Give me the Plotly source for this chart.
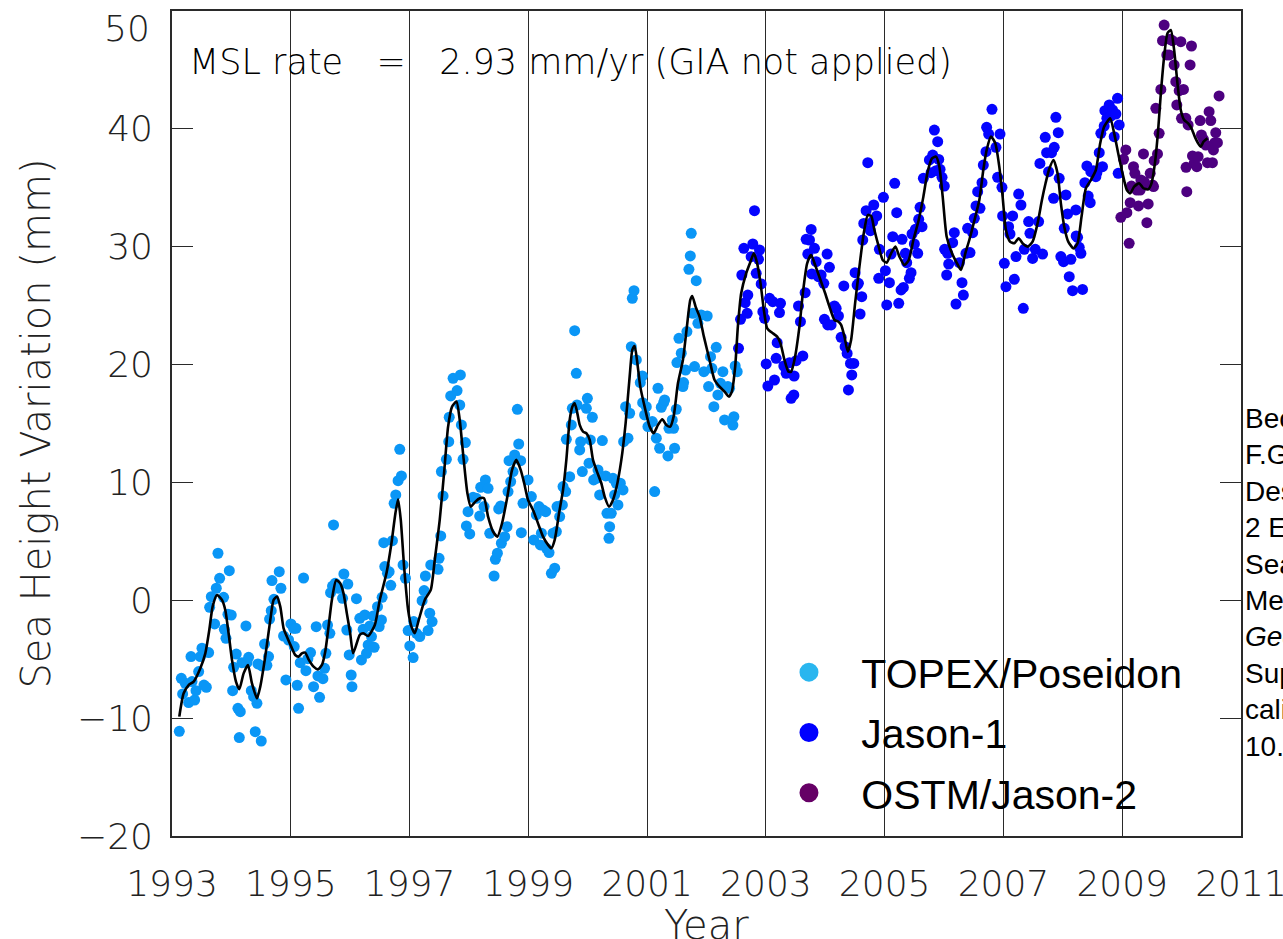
import plotly.graph_objects as go

# ---------------- data ----------------
topex_year = [
    1993.123, 1993.157, 1993.179, 1993.224, 1993.280, 1993.320, 1993.337, 1993.381, 1993.404, 1993.449,
    1993.477, 1993.505, 1993.538, 1993.578, 1993.617, 1993.634, 1993.662, 1993.718, 1993.746, 1993.774,
    1993.802, 1993.869, 1993.881, 1993.909, 1993.965, 1993.942, 1993.998, 1994.021, 1994.038, 1994.082,
    1994.110, 1994.150, 1994.133, 1994.178, 1994.245, 1994.262, 1994.290, 1994.335, 1994.374, 1994.402,
    1994.430, 1994.447, 1994.503, 1994.514, 1994.559, 1994.598, 1994.626, 1994.643, 1994.671, 1994.683,
    1994.716, 1994.806, 1994.834, 1994.879, 1994.918, 1994.963, 1995.002, 1995.047, 1995.086, 1995.058,
    1995.109, 1995.131, 1995.159, 1995.215, 1995.255, 1995.288, 1995.333, 1995.384, 1995.428, 1995.457,
    1995.485, 1995.541, 1995.569, 1995.591, 1995.619, 1995.658, 1995.670, 1995.720, 1995.703, 1995.748,
    1995.804, 1995.872, 1995.894, 1995.961, 1995.944, 1995.984, 1996.017, 1996.030,
    1996.106, 1996.162, 1996.190, 1996.218, 1996.246, 1996.275, 1996.303, 1996.331, 1996.359, 1996.404,
    1996.387, 1996.460, 1996.488, 1996.527, 1996.538, 1996.566, 1996.583, 1996.628, 1996.656, 1996.684,
    1996.712, 1996.740, 1996.768, 1996.807, 1996.835, 1996.863, 1996.891, 1996.931, 1996.976, 1997.004,
    1997.060, 1997.070, 1997.116, 1997.172, 1997.211, 1997.245, 1997.267, 1997.312, 1997.340, 1997.380,
    1997.357, 1997.480, 1997.497, 1997.525, 1997.536, 1997.564, 1997.620, 1997.660, 1997.668, 1997.693,
    1997.733, 1997.800, 1997.856, 1997.845, 1997.873, 1997.940, 1997.901, 1997.985, 1998.069, 1997.957,
    1998.013, 1998.125, 1998.181, 1998.198, 1998.277, 1998.322, 1998.254, 1998.350, 1998.423, 1998.445,
    1998.479, 1998.501, 1998.535, 1998.546, 1998.602, 1998.641, 1998.658, 1998.675, 1998.703, 1998.742,
    1998.770, 1998.815, 1998.838, 1998.871, 1998.910, 1998.882,
    1998.995, 1999.051, 1999.091, 1999.135, 1999.180, 1999.220, 1999.248, 1999.292, 1999.203, 1999.304,
    1999.349, 1999.388, 1999.444, 1999.416, 1999.472, 1999.483, 1999.528, 1999.573, 1999.584, 1999.629,
    1999.640, 1999.696, 1999.724, 1999.741, 1999.780, 1999.808, 1999.820, 1999.865, 1999.881, 1999.909,
    1999.977, 1999.994, 2000.022, 2000.044, 2000.078, 2000.100, 2000.145, 2000.201, 2000.173, 2000.246,
    2000.302, 2000.324, 2000.358, 2000.369, 2000.397, 2000.425, 2000.453, 2000.481, 2000.509, 2000.549,
    2000.594, 2000.605, 2000.638, 2000.678, 2000.706, 2000.734, 2000.751, 2000.779, 2000.818, 2000.885,
    2000.919, 2000.925, 2000.958, 2000.986, 2001.014, 2001.087, 2001.127, 2001.155, 2001.183, 2001.211,
    2001.239, 2001.278, 2001.295, 2001.351, 2001.368, 2001.424, 2001.446, 2001.463, 2001.491, 2001.502,
    2001.536, 2001.575, 2001.603, 2001.614, 2001.648, 2001.670, 2001.704, 2001.727, 2001.743, 2001.771,
    2001.799, 2001.827, 2001.855,
    2001.911, 2002.012, 2001.956, 2002.035, 2002.068, 2002.091, 2002.164, 2002.124, 2002.192, 2002.236,
    2002.276, 2002.304, 2002.360, 2002.388, 2002.444, 2002.461, 2002.483, 2002.517,
]
topex_mm = [
    -11.12, -6.62, -7.95, -7.04, -8.68, -4.78, -6.90, -8.46, -7.67, -6.05,
    -4.78, -4.07, -7.19, -7.38, -4.44, -0.60, 0.31, -2.01, 1.02, 3.99,
    1.86, 0.25, -2.46, -3.23, 2.51, -1.19, -1.25, -7.67, -5.69, -4.56,
    -9.17, -9.45, -11.65, -5.29, -2.18, -5.29, -4.84, -7.67, -8.18, -11.15,
    -8.74, -5.40, -11.94, -5.57, -3.71, -5.52, -4.78, -1.59, -0.88, 1.67,
    0.08, 2.43, 1.02, -3.03, -6.76, -3.37, -2.01, -2.38, -2.38, -3.93,
    -7.21, -9.17, -5.29, 1.89, -5.97, -4.95, -4.44, -7.33, -2.24, -6.42,
    -8.23, -6.65, -5.77, -4.50, -2.10, -2.80, 0.65, 6.39, 1.21, 1.44,
    1.02, 0.17, 2.23, 1.38, -2.52, -4.64, -6.34, -7.33,
    0.14, -1.53, -5.06, -2.46, -1.24, -4.50, -3.79, -2.18, -3.08, -3.99,
    -1.33, -0.54, -2.23, -1.67, 0.25, 4.89, 2.86, 2.29, 2.43, 1.27,
    5.06, 8.23, 8.94, 10.15, 12.81, 10.55, 3.00, 1.87, -2.57, -3.87,
    -4.86, -1.81, -2.80, -3.08, -0.03, 0.82, 2.06, -2.57, -1.10, -1.81,
    3.00, 2.63, 3.56, 5.46, 10.92, 8.85, 11.96, 13.46, 15.53, 17.34,
    18.83, 17.79, 19.12, 16.57, 14.88, 13.38, 11.96, 7.52, 8.74, 6.31,
    5.63, 8.65, 7.15, 9.59, 10.21, 9.50, 7.95, 5.68, 2.06, 3.48,
    3.99, 7.75, 8.00, 4.84, 5.40, 6.25, 9.22, 11.85, 10.07, 10.92,
    12.33, 16.20, 13.26, 11.85, 8.23, 5.74,
    10.21, 8.80, 5.12, 7.24, 7.95, 5.69, 7.67, 7.52, 4.70, 4.41,
    4.05, 2.29, 2.72, 5.69, 5.83, 7.95, 7.10, 8.09, 9.65, 9.22,
    13.66, 10.49, 14.88, 16.29, 22.88, 19.26, 16.57, 12.76, 13.46, 10.92,
    16.29, 17.14, 11.63, 13.61, 15.53, 10.21, 10.35, 8.94, 11.06, 13.55,
    10.55, 7.38, 5.26, 6.25, 7.38, 10.35, 8.94, 9.93, 8.09, 9.93,
    9.36, 13.46, 16.43, 13.75, 15.87, 21.52, 25.62, 26.27, 20.39, 18.47,
    19.03, 16.77, 15.73, 16.43, 14.74, 15.16, 9.22, 13.75, 17.99, 12.90,
    16.38, 16.77, 17.00, 12.25, 14.59, 15.30, 14.59, 12.90, 16.21, 20.17,
    22.23, 20.96, 18.13, 18.47, 19.54, 22.80, 28.08, 29.22, 31.14, 24.35,
    19.83, 27.12, 23.50,
    24.21, 24.12, 19.40, 18.13, 20.67, 19.68, 21.46, 16.43, 17.42, 18.41,
    19.40, 15.30, 18.13, 17.99, 14.87, 15.58, 19.88, 19.40,
]

jason1_year = [
    2002.539, 2002.573, 2002.595, 2002.629, 2002.651, 2002.685, 2002.696, 2002.752, 2002.780, 2002.808,
    2002.837, 2002.876, 2002.893, 2002.921, 2002.949, 2002.977, 2003.005, 2003.033, 2003.061, 2003.117,
    2003.145, 2003.173, 2003.190, 2003.229, 2003.246, 2003.302, 2003.341, 2003.398, 2003.425, 2003.470,
    2003.475, 2003.509, 2003.549, 2003.582, 2003.622, 2003.661, 2003.678, 2003.706, 2003.734, 2003.762,
    2003.773, 2003.818, 2003.846, 2003.885, 2003.930, 2003.975, 2003.986, 2004.031, 2004.042, 2004.070,
    2004.098, 2004.154, 2004.183, 2004.222, 2004.267, 2004.312, 2004.334, 2004.368, 2004.390, 2004.424,
    2004.446, 2004.480, 2004.502, 2004.536, 2004.558, 2004.586, 2004.614, 2004.631, 2004.648, 2004.688,
    2004.716, 2004.760, 2004.799, 2004.816,
    2004.866, 2004.911, 2004.900, 2004.979, 2005.012, 2005.035, 2005.080, 2005.108, 2005.136, 2005.169,
    2005.203, 2005.237, 2005.276, 2005.293, 2005.315, 2005.349, 2005.371, 2005.416, 2005.444, 2005.461,
    2005.500, 2005.517, 2005.556, 2005.573, 2005.596, 2005.629, 2005.652, 2005.753, 2005.781, 2005.809,
    2005.837, 2005.865, 2005.893, 2005.910, 2005.933, 2005.966, 2006.005, 2006.010, 2006.044, 2006.061,
    2006.078, 2006.145, 2006.173, 2006.201, 2006.257, 2006.302, 2006.325, 2006.369, 2006.397, 2006.437,
    2006.482, 2006.510, 2006.538, 2006.566, 2006.605, 2006.639, 2006.661, 2006.706, 2006.717, 2006.751,
    2006.807, 2006.874, 2006.902, 2006.942, 2006.975, 2006.986, 2007.015, 2007.042, 2007.087, 2007.110,
    2007.155, 2007.183, 2007.211, 2007.256, 2007.295, 2007.334, 2007.351, 2007.424, 2007.446, 2007.491,
    2007.536, 2007.592, 2007.614, 2007.659, 2007.704, 2007.727, 2007.760,
    2007.810, 2007.855, 2007.883, 2007.923, 2007.939, 2007.844, 2007.967, 2008.012, 2008.024, 2008.052,
    2008.080, 2008.108, 2008.136, 2008.164, 2008.220, 2008.225, 2008.248, 2008.276, 2008.304, 2008.332,
    2008.371, 2008.405, 2008.427, 2008.461, 2008.472, 2008.517, 2008.556, 2008.573, 2008.613, 2008.640,
    2008.668, 2008.696, 2008.708, 2008.741, 2008.781, 2008.809, 2008.837, 2008.865, 2008.893, 2008.921,
    2008.932, 2008.949,
]
jason1_mm = [
    21.38, 23.84, 27.60, 29.86, 25.25, 24.35, 25.90, 29.15, 30.23, 33.06,
    27.74, 28.93, 29.72, 26.84, 24.49, 23.92, 20.05, 18.18, 25.62, 25.34,
    18.69, 20.53, 21.86, 24.41, 25.20, 19.88, 19.26, 20.16, 17.14, 17.42,
    19.03, 20.33, 24.97, 23.64, 20.73, 26.10, 30.63, 29.38, 30.57, 31.47,
    27.69, 29.86, 28.73, 27.46, 27.60, 26.89, 23.84, 29.38, 23.36, 28.25,
    23.36, 24.97, 24.77, 24.12, 22.31, 26.67, 21.52, 20.95, 17.85, 20.10,
    19.12, 20.10, 27.80, 26.75, 26.89, 24.29, 25.76, 30.57, 31.98, 33.06,
    37.13, 31.36, 32.13, 33.54,
    32.61, 29.78, 27.32, 34.19, 27.97, 25.06, 26.95, 29.38, 30.85, 35.38,
    32.89, 25.20, 26.33, 30.63, 26.55, 29.44, 28.65, 27.32, 27.80, 31.08,
    30.23, 31.48, 29.44, 32.32, 33.34, 31.70, 35.80, 37.36, 36.28, 37.78,
    39.90, 36.45, 38.91, 37.41, 36.57, 35.89, 35.15, 29.78, 27.60, 29.44,
    28.53, 30.34, 31.19, 25.14, 28.65, 26.95, 25.90, 29.44, 31.56, 29.50,
    31.19, 32.41, 33.46, 34.67, 33.26, 35.43, 36.93, 38.06, 40.13, 39.56,
    41.66, 38.43, 35.89, 39.56, 35.04, 32.61, 28.59, 26.61, 31.70, 31.08,
    32.61, 27.23, 29.16, 34.47, 33.54, 24.77, 29.78, 32.13, 31.14, 29.01,
    29.78, 32.13, 37.07, 29.38, 39.28, 37.98, 36.37,
    37.98, 38.43, 40.98, 39.68, 35.80, 34.11, 29.16, 28.73, 31.56, 34.39,
    32.78, 27.46, 28.93, 26.27, 33.12, 30.91, 30.80, 29.95, 29.44, 26.38,
    35.43, 36.85, 34.30, 33.74, 36.37, 36.45, 35.94, 36.28, 37.98, 39.62,
    36.79, 40.24, 41.54, 40.89, 42.03, 41.09, 41.60, 39.34, 41.26, 42.59,
    36.23, 40.33,
]

jason2_year = [
    2008.977, 2009.022, 2009.061, 2009.078, 2009.117, 2009.134, 2009.156, 2009.190, 2009.213, 2009.246,
    2009.274, 2009.302, 2009.314, 2009.358, 2009.370, 2009.398, 2009.415, 2009.437, 2009.471, 2009.510,
    2009.527, 2009.538, 2009.594, 2009.622, 2009.566, 2009.650, 2009.678, 2009.706, 2009.751, 2009.790,
    2009.807, 2009.846, 2009.874, 2009.902, 2009.919, 2009.959, 2009.987, 2009.998, 2010.031, 2010.071,
    2010.110, 2010.143, 2010.166, 2010.183, 2010.211, 2010.256, 2010.278, 2010.312, 2010.334, 2010.368,
    2010.407, 2010.435, 2010.463, 2010.491, 2010.519, 2010.536, 2010.559, 2010.575, 2010.603, 2010.631,
    2010.087, 2010.075,
]
jason2_mm = [
    32.49, 37.42, 38.21, 32.89, 30.29, 33.74, 35.15, 36.79, 36.23, 34.81,
    33.46, 34.81, 35.66, 37.87, 35.52, 35.24, 32.04, 33.63, 36.23, 35.24,
    35.10, 37.30, 37.87, 39.62, 41.74, 43.35, 47.48, 48.81, 46.27, 46.27,
    47.60, 47.48, 45.42, 44.00, 42.03, 43.24, 47.40, 40.89, 43.35, 40.89,
    40.33, 45.42, 47.03, 37.70, 37.07, 36.79, 37.64, 40.70, 39.48, 39.11,
    38.63, 37.13, 41.46, 40.70, 37.13, 38.21, 38.83, 39.68, 38.83, 42.79,
    34.67, 36.74,
]

smooth_year = [
    1993.123, 1993.196, 1993.280, 1993.365, 1993.477, 1993.561, 1993.628, 1993.684, 1993.757, 1993.841,
    1993.897, 1993.953, 1994.010, 1994.077, 1994.133, 1994.206, 1994.279, 1994.346, 1994.430, 1994.486,
    1994.570, 1994.655, 1994.711, 1994.767, 1994.823, 1994.879, 1994.935, 1995.008, 1995.075, 1995.131,
    1995.187, 1995.243, 1995.299, 1995.384, 1995.457, 1995.524, 1995.580, 1995.636, 1995.692, 1995.765,
    1995.832, 1995.888, 1995.944, 1996.000, 1996.050, 1996.162, 1996.218, 1996.303, 1996.415, 1996.499,
    1996.611, 1996.695, 1996.762, 1996.807, 1996.852, 1996.908, 1996.976, 1997.032, 1997.088, 1997.155,
    1997.256, 1997.357, 1997.424, 1997.508, 1997.581, 1997.649, 1997.716, 1997.789, 1997.845, 1997.901,
    1997.974, 1998.030, 1998.109, 1998.181, 1998.254, 1998.322, 1998.406, 1998.479, 1998.557, 1998.647,
    1998.726, 1998.798, 1998.871, 1998.930, 1998.995, 1999.079, 1999.163, 1999.248, 1999.332, 1999.388,
    1999.444, 1999.517, 1999.584, 1999.640, 1999.696, 1999.741, 1999.780, 1999.820, 1999.865, 1999.921,
    1999.977, 2000.033, 2000.089, 2000.156, 2000.229, 2000.285, 2000.358, 2000.414, 2000.481, 2000.566,
    2000.638, 2000.706, 2000.751, 2000.790, 2000.829, 2000.885, 2000.958, 2001.042, 2001.110, 2001.183,
    2001.256, 2001.323, 2001.390, 2001.446, 2001.519, 2001.603, 2001.670, 2001.727, 2001.760, 2001.816,
    2001.883, 2001.956, 2002.051, 2002.136, 2002.220, 2002.304, 2002.377, 2002.427, 2002.483, 2002.528,
    2002.584, 2002.668, 2002.741, 2002.797, 2002.853, 2002.910, 2002.966, 2003.022, 2003.117, 2003.190,
    2003.246, 2003.313, 2003.380, 2003.425, 2003.481, 2003.565, 2003.622, 2003.695, 2003.762, 2003.829,
    2003.919, 2003.998, 2004.070, 2004.154, 2004.222, 2004.267, 2004.323, 2004.379, 2004.435, 2004.502,
    2004.575, 2004.648, 2004.716, 2004.772, 2004.827, 2004.900, 2004.967, 2005.035, 2005.108, 2005.180,
    2005.248, 2005.332, 2005.405, 2005.484, 2005.573, 2005.652, 2005.724, 2005.797, 2005.865, 2005.921,
    2005.977, 2006.044, 2006.134, 2006.212, 2006.285, 2006.358, 2006.425, 2006.527, 2006.594, 2006.661,
    2006.717, 2006.790, 2006.863, 2006.930, 2006.986, 2007.042, 2007.110, 2007.183, 2007.256, 2007.334,
    2007.407, 2007.491, 2007.575, 2007.648, 2007.710, 2007.771, 2007.844, 2007.911, 2007.967, 2008.024,
    2008.091, 2008.181, 2008.248, 2008.315, 2008.388, 2008.472, 2008.556, 2008.629, 2008.696, 2008.797,
    2008.865, 2008.932, 2009.005, 2009.078, 2009.134, 2009.201, 2009.286, 2009.358, 2009.437, 2009.493,
    2009.550, 2009.605, 2009.650, 2009.706, 2009.762, 2009.818, 2009.874, 2009.930, 2009.986, 2010.043,
    2010.110, 2010.166, 2010.222, 2010.278, 2010.323, 2010.368, 2010.435,
]
smooth_mm = [
    -9.87, -7.89, -7.19, -6.90, -5.77, -4.50, -2.52, -0.54, 0.45, 0.03,
    -0.82, -2.80, -5.06, -6.90, -7.55, -6.20, -5.49, -7.04, -8.32, -7.33,
    -4.78, -1.67, 0.03, 0.31, -0.54, -2.38, -3.09, -3.93, -4.64, -4.78,
    -4.50, -4.44, -5.01, -5.63, -5.86, -5.49, -4.36, -2.24, 0.03, 1.72,
    1.44, 0.59, -1.11, -2.80, -4.50, -2.94, -2.80, -3.03, -2.09, 0.03,
    2.29, 4.84, 7.38, 8.57, 6.82, 2.86, -0.82, -2.23, -2.80, -1.67,
    0.03, 0.88, 3.42, 6.82, 10.78, 14.73, 16.43, 16.86, 15.30, 12.47,
    9.08, 7.95, 8.37, 8.65, 8.65, 7.10, 5.83, 5.40, 6.53, 8.80,
    11.06, 11.91, 11.06, 9.93, 8.52, 7.67, 6.53, 5.40, 4.70, 4.41,
    5.12, 7.38, 9.36, 11.91, 15.30, 16.43, 16.72, 16.01, 14.88, 14.31,
    14.17, 13.61, 11.91, 10.92, 9.93, 8.80, 7.95, 8.37, 9.50, 11.91,
    15.02, 18.98, 21.24, 21.58, 20.39, 18.13, 16.43, 14.74, 14.17, 14.88,
    15.36, 14.88, 14.74, 15.58, 18.41, 20.39, 23.22, 25.48, 25.82, 24.92,
    24.07, 22.37, 20.39, 18.69, 18.13, 17.70, 17.28, 17.70, 19.82, 23.22,
    26.05, 27.74, 28.73, 29.44, 28.59, 26.89, 24.63, 23.08, 22.65, 22.37,
    21.80, 20.39, 19.40, 19.40, 20.39, 23.22, 26.05, 28.59, 29.30, 28.45,
    27.18, 26.05, 24.92, 23.78, 23.64, 23.36, 22.37, 21.10, 22.09, 25.20,
    28.31, 31.14, 32.69, 32.61, 31.42, 30.01, 28.87, 28.65, 29.44, 30.01,
    29.16, 28.45, 28.87, 30.57, 32.27, 34.25, 36.37, 37.50, 37.64, 36.79,
    34.25, 30.85, 29.44, 28.65, 28.03, 29.44, 30.57, 32.55, 33.96, 36.51,
    38.21, 39.34, 38.77, 36.79, 34.25, 31.42, 30.43, 30.29, 30.71, 30.23,
    30.01, 30.43, 31.99, 33.96, 35.40, 36.60, 37.36, 36.23, 33.68, 31.70,
    30.43, 29.86, 30.29, 32.55, 34.96, 35.66, 36.51, 38.77, 40.19, 40.89,
    39.62, 37.93, 36.23, 34.81, 34.53, 35.10, 35.38, 34.96, 34.87, 35.38,
    37.07, 39.90, 43.01, 46.13, 48.11, 48.39, 46.69, 43.86, 41.60, 40.75,
    40.47, 40.05, 39.34, 38.77, 38.49, 38.91, 39.20,
]

x_ticks = [1993, 1995, 1997, 1999, 2001, 2003, 2005, 2007, 2009, 2011]
y_ticks = [-20, -10, 0, 10, 20, 30, 40, 50]
legend_names = ["TOPEX/Poseidon", "Jason-1", "OSTM/Jason-2"]
legend_colors = ["#2ab6ef", "#0000ff", "#660066"]
citation_lines = [
    "Beckley, B. D., N. P. Zelensky, S. A. Holmes,",
    "F.G. Lemoine, R. D. Ray, G. T. Mitchum, S.",
    "Desai, S. T. Brown (2010), Assessment of the Jason-",
    "2 Extension to the TOPEX/Poseidon, Jason-1",
    "Sea-Surface Height Time Series for Global",
    "Mean Sea Level Monitoring, <i>Marine</i>",
    "<i>Geodesy</i>, 33(S1), 447-471,",
    "Supplement 1: Marine Geodesy Jason-2",
    "calibration/validation, doi:",
    "10.1080/01490419.2010.491029",
]

IDL_FONT = "DejaVu Sans ExtraLight, DejaVu Sans"
TXT_FONT = "Liberation Sans, Arial"
idl = dict(family=IDL_FONT, size=36, color="#222", weight=200)
idl_title = dict(family=IDL_FONT, size=40, color="#222", weight=200)

fig = go.Figure()
fig.add_trace(go.Scatter(x=topex_year, y=topex_mm, mode="markers", showlegend=False,
                         marker=dict(size=11, color="#0a96f6")))
fig.add_trace(go.Scatter(x=jason1_year, y=jason1_mm, mode="markers", showlegend=False,
                         marker=dict(size=11, color="#0404ff")))
fig.add_trace(go.Scatter(x=jason2_year, y=jason2_mm, mode="markers", showlegend=False,
                         marker=dict(size=11, color="#4d0080")))
fig.add_trace(go.Scatter(x=smooth_year, y=smooth_mm, mode="lines", showlegend=False,
                         line=dict(color="black", width=2.6, shape="spline", smoothing=0.6)))
for i, (nm, col) in enumerate(zip(legend_names, legend_colors)):
    fig.add_trace(go.Scatter(x=[None], y=[None], mode="markers", name="\u00a0" + nm,
                             legendgroup="g%d" % i,
                             marker=dict(size=16, color=col, line=dict(width=3, color=col))))

axis_color = "#2a2a2a"
fig.update_xaxes(range=[1993, 2011], tickvals=x_ticks, ticktext=[str(t) for t in x_ticks],
                 showgrid=True, gridcolor=axis_color, gridwidth=1.4, zeroline=False,
                 showline=True, linecolor=axis_color, linewidth=1.6, mirror=True, ticks="",
                 ticklabelstandoff=15, ticklabeloverflow="allow", automargin=False,
                 tickfont=idl)
fig.update_yaxes(range=[-20, 50], tickvals=y_ticks,
                 ticktext=["\u221220", "\u221210", "0", "10", "20", "30", "40", ""],
                 showgrid=False, zeroline=False,
                 showline=True, linecolor=axis_color, linewidth=1.6, mirror="ticks",
                 ticks="inside", ticklen=21, tickwidth=1.4, tickcolor=axis_color,
                 ticklabelstandoff=10, automargin=False,
                 tickfont=idl,
                 title=dict(text="Sea Height Variation (mm)", standoff=14, font=idl_title))

# x-axis title, placed low as in the reference
fig.add_annotation(xref="paper", yref="paper", x=0.5, y=0, xanchor="center", yanchor="middle",
                   yshift=-89, showarrow=False, text="Year", font=idl_title)

# top tick label, nudged down inside the figure as in the reference
fig.add_annotation(xref="paper", yref="y", x=0, y=y_ticks[-1], xanchor="right", yanchor="top",
                   xshift=-20, yshift=5, showarrow=False, text=str(y_ticks[-1]), font=idl)

# white panel that hides the year lines behind the legend
fig.add_shape(type="rect", xref="paper", yref="paper", x0=0.5575, x1=0.999, y0=0.001, y1=0.2376,
              fillcolor="white", line=dict(width=0), layer="between")

fig.add_annotation(xref="paper", yref="paper", x=0.014, y=0.938, xanchor="left", yanchor="middle",
                   showarrow=False,
                   text="MSL rate\u00a0\u00a0\u00a0=\u00a0\u00a0\u00a02.93 mm/yr (GIA not applied)",
                   font=dict(family=IDL_FONT, size=35, color="black", weight=200))
fig.add_annotation(xref="paper", yref="paper", x=1.0019, y=0.307, xanchor="left", yanchor="middle",
                   showarrow=False, align="left", text="<br>".join(citation_lines),
                   font=dict(family=TXT_FONT, size=28, color="black"))

fig.update_layout(
    width=1283, height=939,
    margin=dict(l=172, r=42, t=11, b=103, pad=0, autoexpand=False),
    paper_bgcolor="white", plot_bgcolor="white",
    legend=dict(x=0.5575, xanchor="left", y=0.2388, yanchor="top",
                bgcolor="rgba(0,0,0,0)", borderwidth=0, itemwidth=72, tracegroupgap=4,
                font=dict(family=TXT_FONT, size=41, color="black"), itemclick=False,
                itemdoubleclick=False),
)

fig.write_html("out.html", config={"displayModeBar": False},
               post_script="document.body.style.margin='0px';")
